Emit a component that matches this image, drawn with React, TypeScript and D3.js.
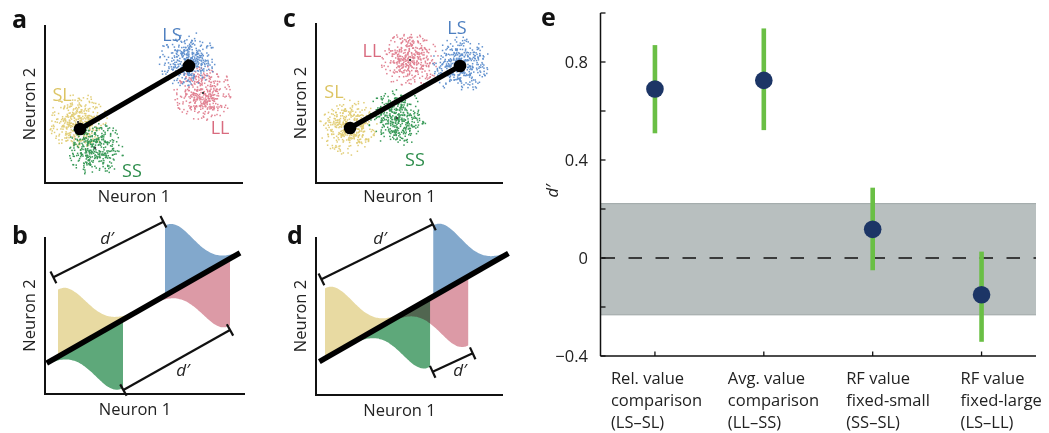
import React from "react";
import * as d3 from "d3";

const FONT = "'Open Sans', 'Noto Sans', sans-serif";

// ---------------- Panel e data ----------------
const comparisons = ["LS–SL", "LL–SS", "SS–SL", "LS–LL"];
const labelLines = [
  ["Rel. value", "comparison", "(LS–SL)"],
  ["Avg. value", "comparison", "(LL–SS)"],
  ["RF value", "fixed-small", "(SS–SL)"],
  ["RF value", "fixed-large", "(LS–LL)"],
];
const dPrime = [0.69, 0.725, 0.117, -0.15];
const ciLow = [0.509, 0.522, -0.05, -0.342];
const ciHigh = [0.869, 0.937, 0.287, 0.026];
const chanceBand = [-0.232, 0.222];
const yTickValues = [-0.4, -0.2, 0, 0.2, 0.4, 0.6, 0.8, 1.0];
const yTickLabels = ["−0.4", "", "0", "", "0.4", "", "0.8", ""];

// ---------------- Panels a, c: clusters (axis units 0–100) ----------------
const clusterNames = ["SL", "SS", "LL", "LS"];
const clusterDotColors = ["#e0cb70", "#2f9550", "#e07d8e", "#5a8ccc"];
const clusterLabelColors = ["#dcc463", "#2e8d4c", "#d96b7f", "#4d7fc0"];
const centersA = [[16.7, 38.6], [25.3, 22.2], [79.8, 57.0], [72.2, 77.8]];
const meansA = [[17.7, 34.2], [72.7, 74.1]];
const labelPosA = [[8.6, 55.7], [43.9, 8.2], [88.4, 35.4], [64.1, 93.7]];
const centersC = [[17.6, 35.0], [43.3, 40.6], [50.3, 76.9], [77.5, 73.8]];
const meansC = [[18.2, 34.4], [77.0, 73.1]];
const labelPosC = [[9.6, 56.9], [52.9, 14.4], [29.9, 83.1], [75.4, 97.5]];

// ---------------- Panels b, d: projected distributions ----------------
const distNames = ["SL", "SS", "LL", "LS"];
const distColors = ["#e8daa2", "#5ea87a", "#dc9aa6", "#82a8cc"];
const distSide = [1, -1, -1, 1]; // above / below the decision line
const distTail = [1, -1, -1, 1]; // tail extends right / left
const peaksB = [6.5, 39, 92.5, 60];
const heightsB = [42.7, 43.6, 42.7, 44.6];
const sigmaB = 13.5;
const diagB = [[0.85, 19.7], [97.5, 89.9]];
const bracketsB = [[[4.2, 74.3], [59.2, 109.7]], [[39.2, 2.5], [92.5, 40.8]]];
const dLabelB = [[31, 99.4], [69, 15.3]];

const peaksD = [4.8, 61.0, 81.4, 62.7];
const heightsD = [44.3, 43.4, 43.7, 44.9];
const sigmaD = 14.4;
const diagD = [[1.8, 21.1], [102.9, 89.7]];
const bracketsD = [[[2.9, 73.2], [62.5, 108.0]], [[62.4, 14.7], [83.8, 26.4]]];
const dLabelD = [[34.2, 99.4], [77, 15.8]];

type Frame = { x0: number; x1: number; y0: number; y1: number };

function Axes({ f }: { f: Frame }) {
  return (
    <path
      d={`M${f.x0},${f.y0}V${f.y1}H${f.x1}`}
      fill="none"
      stroke="#111"
      strokeWidth={2}
    />
  );
}

function PanelLetter({ x, y, t }: { x: number; y: number; t: string }) {
  return (
    <text x={x} y={y} fontFamily={FONT} fontWeight={700} fontSize={25} fill="#111">
      {t}
    </text>
  );
}

function AxisLabels({ f, yBase, xBase }: { f: Frame; yBase: number; xBase: number }) {
  const cx = (f.x0 + f.x1) / 2 - 10;
  const cy = (f.y0 + f.y1) / 2;
  return (
    <g fontFamily={FONT} fontSize={16.5} fill="#222">
      <text transform={`translate(${yBase},${cy}) rotate(-90)`} textAnchor="middle">
        Neuron 2
      </text>
      <text x={cx} y={xBase} textAnchor="middle">
        Neuron 1
      </text>
    </g>
  );
}

// Illustrative noise cloud (seeded, deterministic), truncated at 2.1 sigma
function makeCloud(seed: number, c: number[], sx: number, sy: number, n: number) {
  const rng = d3.randomLcg(seed);
  const nrm = d3.randomNormal.source(rng)(0, 1);
  const out: number[][] = [];
  while (out.length < n) {
    const a = nrm(), b = nrm();
    if (a * a + b * b > 2.1 * 2.1) continue;
    out.push([c[0] + a * sx, c[1] + b * sy]);
  }
  return out;
}

function ScatterPanel({
  f, centers, means, labels, seed,
}: { f: Frame; centers: number[][]; means: number[][]; labels: number[][]; seed: number }) {
  const x = d3.scaleLinear().domain([0, 100]).range([f.x0, f.x1]);
  const y = d3.scaleLinear().domain([0, 100]).range([f.y1, f.y0]);
  const sx = 14 / ((f.x1 - f.x0) / 100);
  const sy = 13.5 / ((f.y1 - f.y0) / 100);
  const clouds = centers.map((c, i) => makeCloud(seed + i * 97, c, sx, sy, 380));
  return (
    <g>
      {clouds.map((pts, i) => (
        <g key={i} fill={clusterDotColors[i]} opacity={0.95}>
          {pts.map((p, j) => (
            <rect key={j} x={x(p[0]) - 0.75} y={y(p[1]) - 0.75} width={1.5} height={1.5} />
          ))}
          <rect x={x(centers[i][0]) - 1} y={y(centers[i][1]) - 1} width={2} height={2} fill="#333" />
        </g>
      ))}
      <line
        x1={x(means[0][0])} y1={y(means[0][1])}
        x2={x(means[1][0])} y2={y(means[1][1])}
        stroke="#000" strokeWidth={5}
      />
      {means.map((m, i) => (
        <circle key={i} cx={x(m[0])} cy={y(m[1])} r={6.3} fill="#000" />
      ))}
      {labels.map((p, i) => (
        <text
          key={i} x={x(p[0])} y={y(p[1]) + 6.5} textAnchor="middle"
          fontFamily={FONT} fontSize={18} fill={clusterLabelColors[i]}
        >
          {clusterNames[i]}
        </text>
      ))}
      <Axes f={f} />
    </g>
  );
}

function DistPanel({
  f, diag, peaks, heights, sigma, brackets, dLabels,
}: {
  f: Frame; diag: number[][]; peaks: number[]; heights: number[]; sigma: number;
  brackets: number[][][]; dLabels: number[][];
}) {
  const x = d3.scaleLinear().domain([0, 100]).range([f.x0, f.x1]);
  const y = d3.scaleLinear().domain([0, 100]).range([f.y1, f.y0]);
  const slope = (diag[1][1] - diag[0][1]) / (diag[1][0] - diag[0][0]);
  const lineY = (u: number) => diag[0][1] + slope * (u - diag[0][0]);
  const shapes = peaks.map((p, i) => {
    const ext = 2.7 * sigma;
    const end = distTail[i] > 0 ? Math.min(p + ext, diag[1][0]) : Math.max(p - ext, diag[0][0]);
    const us = d3.range(0, 61).map((k) => p + ((end - p) * k) / 60);
    const area = d3
      .area<number>()
      .x((u) => x(u))
      .y0((u) => y(lineY(u)))
      .y1((u) => y(lineY(u) + distSide[i] * heights[i] * Math.exp(-((u - p) ** 2) / (2 * sigma * sigma))))
      .curve(d3.curveBasis);
    return area(us) as string;
  });
  return (
    <g>
      {shapes.map((d, i) => (
        <path key={i} d={d} fill={distColors[i]} style={{ mixBlendMode: "multiply" }} />
      ))}
      <line
        x1={x(diag[0][0])} y1={y(diag[0][1])} x2={x(diag[1][0])} y2={y(diag[1][1])}
        stroke="#000" strokeWidth={5.5}
      />
      {brackets.map((b, i) => {
        const x1 = x(b[0][0]), y1 = y(b[0][1]), x2 = x(b[1][0]), y2 = y(b[1][1]);
        const L = Math.hypot(x2 - x1, y2 - y1);
        const nx = (-(y2 - y1) / L) * 6.5, ny = ((x2 - x1) / L) * 6.5;
        return (
          <g key={i} stroke="#111" strokeWidth={2.2}>
            <line x1={x1} y1={y1} x2={x2} y2={y2} />
            <line x1={x1 - nx} y1={y1 - ny} x2={x1 + nx} y2={y1 + ny} />
            <line x1={x2 - nx} y1={y2 - ny} x2={x2 + nx} y2={y2 + ny} />
          </g>
        );
      })}
      {dLabels.map((p, i) => (
        <text
          key={i} x={x(p[0])} y={y(p[1]) + 6} textAnchor="middle"
          fontFamily={FONT} fontStyle="italic" fontSize={17} fill="#222"
        >
          d′
        </text>
      ))}
      <Axes f={f} />
    </g>
  );
}

function PanelE() {
  const y = d3.scaleLinear().domain([-0.4, 1.0]).range([356, 13]);
  const x = d3.scaleBand().domain(comparisons).range([600.5, 1036]);
  const cx = (c: string) => (x(c) as number) + x.bandwidth() / 2;
  const axisX = 600.5;
  const right = 1036;
  const labelDx = [-44, -36, -26.5, -21];
  return (
    <g fontFamily={FONT}>
      <rect
        x={axisX + 0.5} y={y(chanceBand[1])} width={right - axisX - 0.5}
        height={y(chanceBand[0]) - y(chanceBand[1])} fill="#b8bfbf"
      />
      <line x1={axisX} x2={right} y1={y(chanceBand[1])} y2={y(chanceBand[1])} stroke="#9ea6a6" strokeWidth={1} />
      <line x1={axisX} x2={right} y1={y(chanceBand[0])} y2={y(chanceBand[0])} stroke="#9ea6a6" strokeWidth={1} />
      <line
        x1={axisX + 1} x2={right} y1={y(0)} y2={y(0)}
        stroke="#111" strokeWidth={1.6} strokeDasharray="13.5 13.5"
      />
      {comparisons.map((c, i) => (
        <g key={c}>
          <line x1={cx(c)} x2={cx(c)} y1={y(ciLow[i])} y2={y(ciHigh[i])} stroke="#6abf45" strokeWidth={4.6} />
          <circle cx={cx(c)} cy={y(dPrime[i])} r={8.8} fill="#1c3566" />
        </g>
      ))}
      <line x1={axisX} x2={axisX} y1={y(1.0)} y2={y(-0.4)} stroke="#111" strokeWidth={1.5} />
      <line x1={axisX} x2={right} y1={y(-0.4)} y2={y(-0.4)} stroke="#111" strokeWidth={1.5} />
      {yTickValues.map((v, i) => (
        <g key={v}>
          <line x1={axisX} x2={axisX + 5} y1={y(v)} y2={y(v)} stroke="#111" strokeWidth={1.3} />
          {yTickLabels[i] && (
            <text x={588} y={y(v) + 5.8} textAnchor="end" fontSize={16.5} fill="#222">
              {yTickLabels[i]}
            </text>
          )}
        </g>
      ))}
      {comparisons.map((c, i) => (
        <g key={c + "t"}>
          <line x1={cx(c)} x2={cx(c)} y1={y(-0.4)} y2={y(-0.4) - 4.5} stroke="#111" strokeWidth={1.3} />
          {labelLines[i].map((t, k) => (
            <text key={k} x={cx(c) + labelDx[i]} y={383.5 + k * 22} fontSize={16.5} fill="#222">
              {t}
            </text>
          ))}
        </g>
      ))}
      <text
        transform={`translate(558,191) rotate(-90)`} textAnchor="middle"
        fontStyle="italic" fontSize={16.5} fill="#222"
      >
        d′
      </text>
      <PanelLetter x={541} y={26} t="e" />
    </g>
  );
}

export default function App() {
  const fA: Frame = { x0: 45, x1: 243, y0: 25, y1: 183 };
  const fB: Frame = { x0: 45, x1: 245, y0: 237, y1: 394 };
  const fC: Frame = { x0: 316, x1: 503, y0: 23, y1: 183 };
  const fD: Frame = { x0: 316, x1: 503, y0: 237, y1: 395 };
  return (
    <svg
      width={1049} height={433} viewBox="0 0 1049 433"
      style={{ position: "absolute", left: 0, top: 0, background: "#fff" }}
    >
      <rect width={1049} height={433} fill="#fff" />
      <ScatterPanel f={fA} centers={centersA} means={meansA} labels={labelPosA} seed={11} />
      <AxisLabels f={fA} yBase={35} xBase={202} />
      <PanelLetter x={12} y={28} t="a" />

      <DistPanel f={fB} diag={diagB} peaks={peaksB} heights={heightsB} sigma={sigmaB} brackets={bracketsB} dLabels={dLabelB} />
      <AxisLabels f={fB} yBase={35} xBase={415} />
      <PanelLetter x={12} y={244} t="b" />

      <ScatterPanel f={fC} centers={centersC} means={meansC} labels={labelPosC} seed={53} />
      <AxisLabels f={fC} yBase={306} xBase={202} />
      <PanelLetter x={283} y={27} t="c" />

      <DistPanel f={fD} diag={diagD} peaks={peaksD} heights={heightsD} sigma={sigmaD} brackets={bracketsD} dLabels={dLabelD} />
      <AxisLabels f={fD} yBase={306} xBase={416} />
      <PanelLetter x={287} y={244} t="d" />

      <PanelE />
    </svg>
  );
}
